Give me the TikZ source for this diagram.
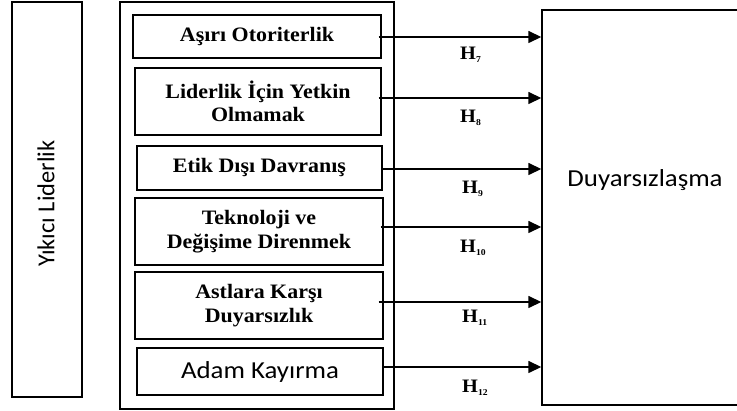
\documentclass[tikz,border=0pt]{standalone}
\usepackage{fontspec}
\setmainfont{Liberation Serif}[FakeStretch=1.07]
\newfontfamily\calib{Carlito}
\newfontfamily\calibw{Carlito}[FakeStretch=1.1]
\usetikzlibrary{arrows.meta}
\tikzset{
  frame/.style={draw=black, line width=1.4pt, inner sep=0pt},
  inbox/.style={frame, align=center, font=\fontsize{20.5}{23.5}\selectfont\bfseries},
  arr/.style={line width=1.5pt, -{Triangle[length=13pt,width=12pt]}},
  hlab/.style={anchor=west, inner sep=0pt, font=\fontsize{19}{19}\selectfont\bfseries},
}
\newcommand{\hsub}[1]{H\raisebox{-2.5pt}{\fontsize{9}{9}\selectfont #1}}
\begin{document}
\begin{tikzpicture}[x=1pt,y=-1pt]
\useasboundingbox (0,0) rectangle (737,411);
% left box
\node[frame, minimum width=70pt, minimum height=395pt] (L) at (47,199.5) {};
\node[rotate=90, inner sep=0pt, font=\calib\fontsize{24.4}{26}\selectfont] (Lt) at (46,203.5) {Yıkıcı Liderlik};
% outer box
\node[frame, minimum width=274pt, minimum height=407pt] (O) at (257,205.5) {};
% inner boxes
\node[inbox, minimum width=248pt, minimum height=43pt] (b1) at (257,36.5) {Aşırı Otoriterlik};
\node[inbox, minimum width=246pt, minimum height=67pt] (b2) at (258,101.5) {Liderlik İçin Yetkin\\Olmamak};
\node[inbox, minimum width=245pt, minimum height=44pt] (b3) at (259.5,168) {Etik Dışı Davranış};
\node[inbox, minimum width=248pt, minimum height=67pt] (b4) at (259,231.5) {Teknoloji ve\\Değişime Direnmek};
\node[inbox, minimum width=248pt, minimum height=67pt] (b5) at (259,305.5) {Astlara Karşı\\Duyarsızlık};
\node[frame, minimum width=246pt, minimum height=47pt, font=\calibw\fontsize{24.4}{26}\selectfont] (b6) at (260,371.5) {Adam Kayırma};
% right box (its right side lies beyond the picture)
\node[frame, minimum width=280pt, minimum height=395pt] (R) at (682,207.5) {};
\node[inner sep=0pt, font=\calibw\fontsize{24.4}{26}\selectfont] (Rt) at (645,180) {Duyarsızlaşma};
% arrows
\draw[arr] ([xshift=-3pt]b1.east |- 0,37) -- (R.west |- 0,37);
\draw[arr] ([xshift=-3pt]b2.east |- 0,98) -- (R.west |- 0,98);
\draw[arr] (b3.east |- 0,169) -- (R.west |- 0,169);
\draw[arr] ([xshift=-3pt]b4.east |- 0,227) -- (R.west |- 0,227);
\draw[arr] ([xshift=-5pt]b5.east |- 0,302) -- (R.west |- 0,302);
\draw[arr] (b6.east |- 0,367) -- (R.west |- 0,367);
% labels
\node[hlab] (h7) at (460,55) {\hsub{7}};
\node[hlab] (h8) at (460,118) {\hsub{8}};
\node[hlab] (h9) at (462,189) {\hsub{9}};
\node[hlab] (h10) at (460,248) {\hsub{10}};
\node[hlab] (h11) at (462,318) {\hsub{11}};
\node[hlab] (h12) at (462,388) {\hsub{12}};
\end{tikzpicture}
\end{document}
